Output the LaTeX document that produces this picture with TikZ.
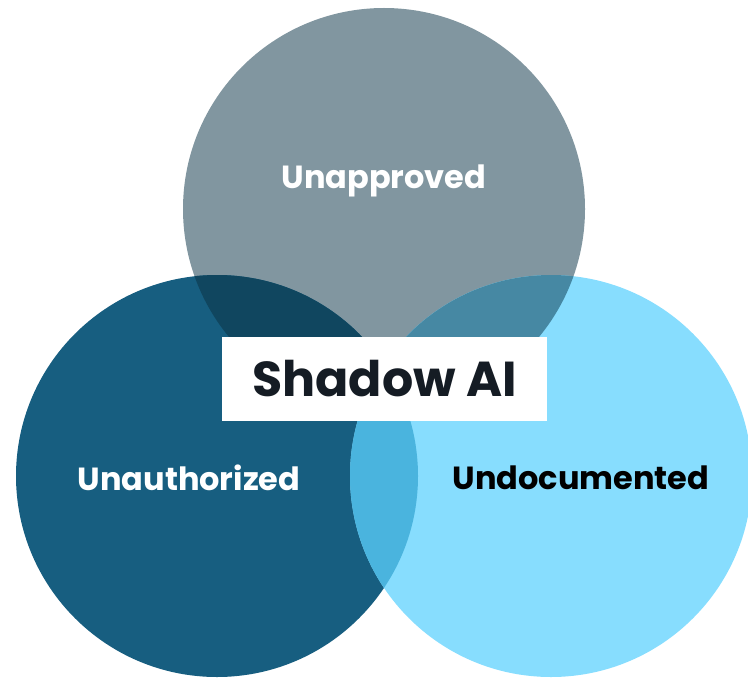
\documentclass[tikz,border=0pt]{standalone}
\usepackage{fontspec}
\setmainfont{Poppins}
\usetikzlibrary{positioning}

\definecolor{topc}{HTML}{8196A0}
\definecolor{leftc}{HTML}{175E80}
\definecolor{rightc}{HTML}{87DDFE}
\definecolor{topleftc}{HTML}{10465F}
\definecolor{toprightc}{HTML}{4688A3}
\definecolor{leftrightc}{HTML}{4AB4DE}
\definecolor{inkc}{HTML}{151C24}

\begin{document}
\begin{tikzpicture}[x=0.75pt,y=-0.75pt,
    setlabel/.style={font=\bfseries\fontsize{24}{28}\selectfont},
    titlebox/.style={fill=white,minimum width=244pt,minimum height=63pt,
        font=\bfseries\fontsize{36.8}{44}\selectfont,text=inkc}]

    \useasboundingbox (0,0) rectangle (748,677);

    % Centres of the three sets
    \coordinate (appr) at (384,209);
    \coordinate (auth) at (217,476);
    \coordinate (docu) at (551,476);
    \def\rad{201}

    % Draw the three circles
    \fill[topc] (appr) circle (\rad);
    \fill[leftc] (auth) circle (\rad);
    \fill[rightc] (docu) circle (\rad);

    % Draw the pairwise overlaps
    \begin{scope}
        \clip (appr) circle (\rad);
        \fill[topleftc] (auth) circle (\rad);
        \fill[toprightc] (docu) circle (\rad);
    \end{scope}
    \begin{scope}
        \clip (auth) circle (\rad);
        \fill[leftrightc] (docu) circle (\rad);
    \end{scope}

    % Set labels
    \node[setlabel,text=white] (unappr) at (384,181) {Unapproved};
    \node[setlabel,text=white] (unauth) at (189,478) {Unauthorized};
    \node[setlabel,text=black] (undocu) at (581,478) {Undocumented};

    % Title box in the middle
    \node[titlebox] (shadow) at (384.5,379) {Shadow AI};

\end{tikzpicture}
\end{document}
